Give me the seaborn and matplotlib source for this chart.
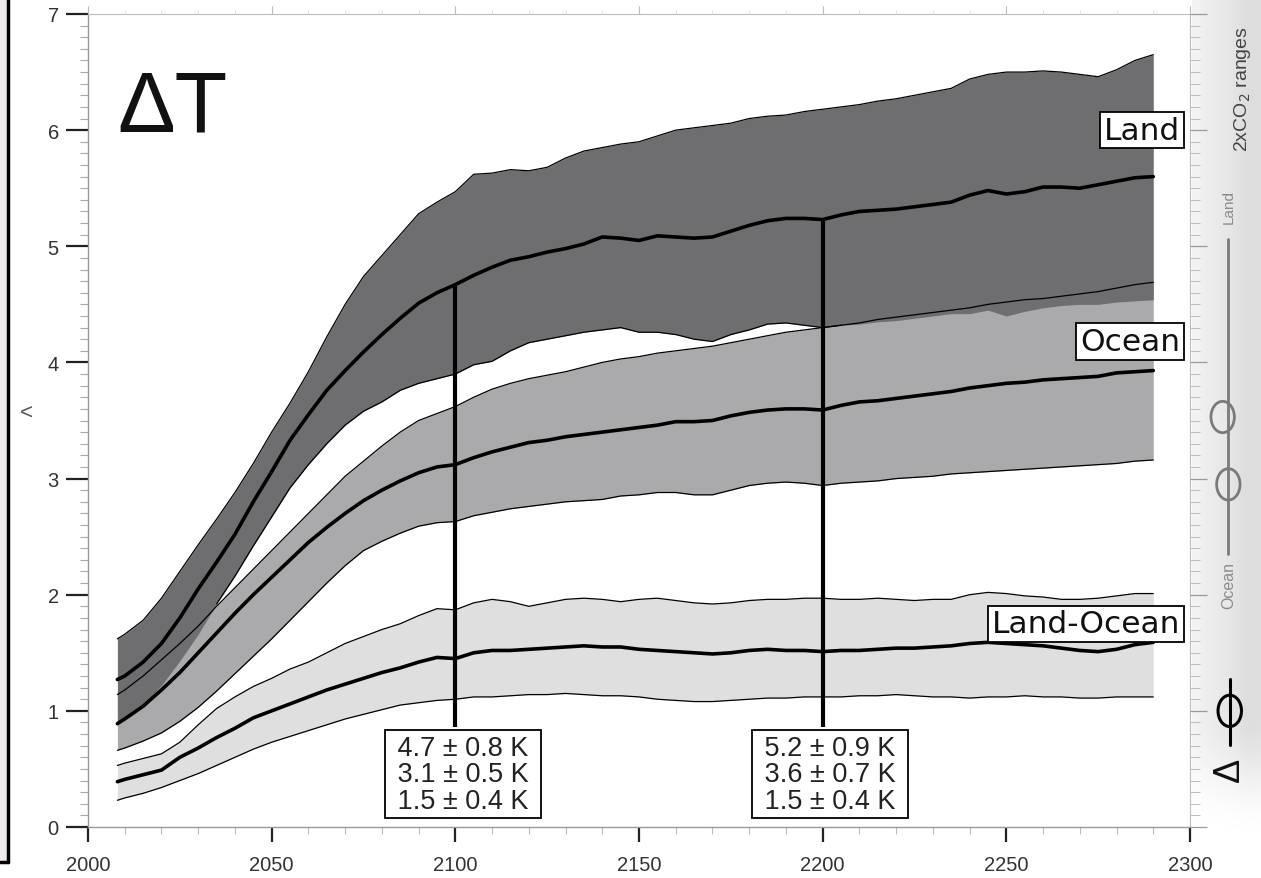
import numpy as np
import pandas as pd
import matplotlib
matplotlib.use("Agg")
import matplotlib.pyplot as plt
from matplotlib.patches import Ellipse, Rectangle
from matplotlib.lines import Line2D
from matplotlib.ticker import MultipleLocator
import seaborn as sns

# ---- data (K) ----
years = [2008] + list(range(2010, 2295, 5))

land_upper = [1.62, 1.66, 1.78, 1.97, 2.20, 2.43, 2.65, 2.88, 3.13, 3.40, 3.65, 3.92, 4.22, 4.50,
              4.74, 4.92, 5.10, 5.28, 5.38, 5.47, 5.62, 5.63, 5.66, 5.65, 5.68, 5.76, 5.82, 5.85,
              5.88, 5.90, 5.95, 6.00, 6.02, 6.04, 6.06, 6.10, 6.12, 6.13, 6.16, 6.18, 6.20, 6.22,
              6.25, 6.27, 6.30, 6.33, 6.36, 6.44, 6.48, 6.50, 6.50, 6.51, 6.50, 6.48, 6.46, 6.52,
              6.60, 6.65]
land_mean = [1.27, 1.30, 1.42, 1.58, 1.80, 2.05, 2.28, 2.52, 2.80, 3.06, 3.33, 3.55, 3.76, 3.93,
             4.09, 4.24, 4.38, 4.51, 4.60, 4.67, 4.75, 4.82, 4.88, 4.91, 4.95, 4.98, 5.02, 5.08,
             5.07, 5.05, 5.09, 5.08, 5.07, 5.08, 5.13, 5.18, 5.22, 5.24, 5.24, 5.23, 5.27, 5.30,
             5.31, 5.32, 5.34, 5.36, 5.38, 5.44, 5.48, 5.45, 5.47, 5.51, 5.51, 5.50, 5.53, 5.56,
             5.59, 5.60]
land_lower = [0.90, 0.93, 1.05, 1.22, 1.43, 1.66, 1.92, 2.16, 2.42, 2.67, 2.92, 3.12, 3.30, 3.46,
              3.58, 3.66, 3.76, 3.82, 3.86, 3.90, 3.98, 4.01, 4.10, 4.17, 4.20, 4.23, 4.26, 4.28,
              4.30, 4.26, 4.26, 4.24, 4.20, 4.18, 4.24, 4.28, 4.33, 4.34, 4.32, 4.30, 4.32, 4.33,
              4.35, 4.36, 4.38, 4.40, 4.42, 4.42, 4.45, 4.40, 4.44, 4.47, 4.49, 4.50, 4.50, 4.52,
              4.53, 4.54]

ocean_upper = [1.14, 1.18, 1.30, 1.44, 1.58, 1.73, 1.90, 2.06, 2.22, 2.38, 2.54, 2.70, 2.86, 3.02,
               3.15, 3.28, 3.40, 3.50, 3.56, 3.62, 3.70, 3.77, 3.82, 3.86, 3.89, 3.92, 3.96, 4.00,
               4.03, 4.05, 4.08, 4.10, 4.12, 4.14, 4.17, 4.20, 4.23, 4.26, 4.28, 4.30, 4.32, 4.34,
               4.37, 4.39, 4.41, 4.43, 4.45, 4.47, 4.50, 4.52, 4.54, 4.55, 4.57, 4.59, 4.61, 4.64,
               4.67, 4.69]
ocean_mean = [0.89, 0.93, 1.04, 1.18, 1.33, 1.50, 1.67, 1.84, 2.00, 2.15, 2.30, 2.45, 2.58, 2.70,
              2.81, 2.90, 2.98, 3.05, 3.10, 3.12, 3.18, 3.23, 3.27, 3.31, 3.33, 3.36, 3.38, 3.40,
              3.42, 3.44, 3.46, 3.49, 3.49, 3.50, 3.54, 3.57, 3.59, 3.60, 3.60, 3.59, 3.63, 3.66,
              3.67, 3.69, 3.71, 3.73, 3.75, 3.78, 3.80, 3.82, 3.83, 3.85, 3.86, 3.87, 3.88, 3.91,
              3.92, 3.93]
ocean_lower = [0.66, 0.68, 0.74, 0.81, 0.91, 1.03, 1.17, 1.32, 1.47, 1.62, 1.78, 1.94, 2.10, 2.25,
               2.38, 2.46, 2.53, 2.59, 2.62, 2.63, 2.68, 2.71, 2.74, 2.76, 2.78, 2.80, 2.81, 2.82,
               2.85, 2.86, 2.88, 2.88, 2.86, 2.86, 2.90, 2.94, 2.96, 2.97, 2.96, 2.94, 2.96, 2.97,
               2.98, 3.00, 3.01, 3.02, 3.04, 3.05, 3.06, 3.07, 3.08, 3.09, 3.10, 3.11, 3.12, 3.13,
               3.15, 3.16]

lo_upper = [0.53, 0.55, 0.59, 0.63, 0.73, 0.88, 1.02, 1.12, 1.21, 1.28, 1.36, 1.42, 1.50, 1.58,
            1.64, 1.70, 1.75, 1.82, 1.88, 1.87, 1.93, 1.96, 1.94, 1.90, 1.93, 1.96, 1.97, 1.96,
            1.94, 1.96, 1.97, 1.95, 1.93, 1.92, 1.93, 1.95, 1.96, 1.96, 1.97, 1.97, 1.96, 1.96,
            1.97, 1.96, 1.95, 1.96, 1.96, 2.00, 2.02, 2.01, 1.99, 1.98, 1.96, 1.96, 1.97, 1.99,
            2.01, 2.01]
lo_mean = [0.39, 0.41, 0.45, 0.49, 0.60, 0.68, 0.77, 0.85, 0.94, 1.00, 1.06, 1.12, 1.18, 1.23,
           1.28, 1.33, 1.37, 1.42, 1.46, 1.45, 1.50, 1.52, 1.52, 1.53, 1.54, 1.55, 1.56, 1.55,
           1.55, 1.53, 1.52, 1.51, 1.50, 1.49, 1.50, 1.52, 1.53, 1.52, 1.52, 1.51, 1.52, 1.52,
           1.53, 1.54, 1.54, 1.55, 1.56, 1.58, 1.59, 1.58, 1.57, 1.56, 1.54, 1.52, 1.51, 1.53,
           1.57, 1.59]
lo_lower = [0.23, 0.25, 0.29, 0.34, 0.40, 0.46, 0.53, 0.60, 0.67, 0.73, 0.78, 0.83, 0.88, 0.93,
            0.97, 1.01, 1.05, 1.07, 1.09, 1.10, 1.12, 1.12, 1.13, 1.14, 1.14, 1.15, 1.14, 1.13,
            1.13, 1.12, 1.10, 1.09, 1.08, 1.08, 1.09, 1.10, 1.11, 1.11, 1.12, 1.12, 1.12, 1.13,
            1.13, 1.14, 1.13, 1.12, 1.12, 1.11, 1.12, 1.12, 1.13, 1.12, 1.12, 1.11, 1.11, 1.12,
            1.12, 1.12]

series_labels = ["Land", "Ocean", "Land-Ocean"]
label_y = [6.0, 4.18, 1.75]

box_years = [2100, 2200]
box_texts = [" 4.7 ± 0.8 K \n 3.1 ± 0.5 K \n 1.5 ± 0.4 K ",
             " 5.2 ± 0.9 K \n 3.6 ± 0.7 K \n 1.5 ± 0.4 K "]

# 2xCO2 ranges (side panel)
land_ocean_range = [5.06, 2.35]
land_circle, ocean_circle = 3.53, 2.95
delta_range = [1.27, 0.71]
delta_circle = 1.0

df = pd.DataFrame({"year": years,
                   "land_u": land_upper, "land_m": land_mean, "land_l": land_lower,
                   "ocean_u": ocean_upper, "ocean_m": ocean_mean, "ocean_l": ocean_lower,
                   "lo_u": lo_upper, "lo_m": lo_mean, "lo_l": lo_lower})

sns.set_style("ticks")
plt.rcParams["font.family"] = ["Liberation Sans", "DejaVu Sans"]

W, H = 1261, 879
fig = plt.figure(figsize=(W / 100, H / 100), dpi=100)

# side panel background (soft grey shading)
bg = fig.add_axes([1192 / W, 1 - 845 / H, 69 / W, 845 / H])
horiz = np.array([0.95, 0.93, 0.92, 0.91, 0.90, 0.88, 0.86, 0.87])
fade = np.zeros(40)
fade[-5:] = [0.2, 0.45, 0.7, 0.9, 1.0]
shade = horiz[None, :] + (1 - horiz[None, :]) * fade[:, None]
bg.imshow(shade, cmap="gray", vmin=0, vmax=1, aspect="auto", interpolation="bicubic")
bg.axis("off")
bg.set_zorder(-1)

ax = fig.add_axes([88 / W, 1 - 828 / H, (1190 - 88) / W, (828 - 15) / H])
ax.set_facecolor("white")

# bands
ax.fill_between(df["year"], df["lo_l"], df["lo_u"], color="#dfdfdf", lw=0, zorder=1)
ax.fill_between(df["year"], df["ocean_l"], df["ocean_u"], color="#aaaaac", lw=0, zorder=2)
ax.fill_between(df["year"], df["land_l"], df["land_u"], color="#6e6e70", lw=0, zorder=3)

# thin envelope lines
land_low_vis = np.where(df["land_l"] >= df["ocean_u"], df["land_l"], np.nan)
for col in ["land_u", "ocean_u", "ocean_l", "lo_u", "lo_l"]:
    sns.lineplot(x=df["year"], y=df[col], ax=ax, color="black", lw=0.9,
                 estimator=None, sort=False, zorder=4)
ax.plot(df["year"], land_low_vis, color="black", lw=0.9, zorder=4)

# mean lines
for col in ["land_m", "ocean_m", "lo_m"]:
    sns.lineplot(x=df["year"], y=df[col], ax=ax, color="black", lw=2.6,
                 estimator=None, sort=False, zorder=5)

# marker lines and value boxes
box_top = 0.86
for yr, txt in zip(box_years, box_texts):
    top = np.interp(yr, df["year"], df["land_m"])
    ax.vlines(yr, box_top, top, color="black", lw=3, zorder=6)
    ax.text(yr + 2, 0.455, txt, ha="center", va="center", fontsize=19.5, linespacing=1.02,
            color="#222", zorder=7,
            bbox=dict(boxstyle="square,pad=0.18", fc="white", ec="black", lw=1.3))

for lab, yv in zip(series_labels, label_y):
    ax.text(2297.3, yv, lab, ha="right", va="center", fontsize=22.5, family="DejaVu Sans",
            color="#111", zorder=7,
            bbox=dict(boxstyle="square,pad=0.12", fc="white", ec="black", lw=1.3))

ax.text(2008, 6.0, "ΔT", fontsize=62, ha="left", va="baseline", color="#111", zorder=7)

ax.set_xlim(2000, 2300)
ax.set_ylim(0, 7)
ax.set_xlabel("")
ax.set_ylabel("")
ax.xaxis.set_major_locator(MultipleLocator(50))
ax.xaxis.set_minor_locator(MultipleLocator(10))
ax.yaxis.set_major_locator(MultipleLocator(1))
ax.yaxis.set_minor_locator(MultipleLocator(0.1))
ax.tick_params(axis="y", which="major", direction="out", length=16, width=1.6,
               color="#222", labelsize=14.5, labelcolor="#333", pad=5)
ax.tick_params(axis="y", which="minor", direction="out", length=6, width=0.8, color="#aaa")
ax.tick_params(axis="x", which="major", direction="out", length=11, width=1.6,
               color="#222", labelsize=14.5, labelcolor="#333", pad=9)
ax.tick_params(axis="x", which="minor", direction="out", length=5, width=0.8, color="#bbb")
for s in ["left", "bottom"]:
    ax.spines[s].set_color("#999")
    ax.spines[s].set_linewidth(1.0)
for s in ["top", "right"]:
    ax.spines[s].set_color("#bbb")
    ax.spines[s].set_linewidth(0.8)

# right-hand minor ticks and top ticks
rax = ax.twinx()
rax.set_ylim(0, 7)
rax.yaxis.set_major_locator(MultipleLocator(1))
rax.yaxis.set_minor_locator(MultipleLocator(0.1))
rax.tick_params(axis="y", which="major", direction="out", length=12, width=0.9,
                color="#999", labelright=False)
rax.tick_params(axis="y", which="minor", direction="out", length=7, width=0.7, color="#bbb")
rax.spines[:].set_visible(False)
tax = ax.twiny()
tax.set_xlim(2000, 2300)
tax.xaxis.set_major_locator(MultipleLocator(50))
tax.xaxis.set_minor_locator(MultipleLocator(10))
tax.tick_params(axis="x", which="major", direction="out", length=6, width=0.8,
                color="#bbb", labeltop=False)
tax.tick_params(axis="x", which="minor", direction="out", length=3, width=0.6, color="#ddd")
tax.spines[:].set_visible(False)

# side panel: 2xCO2 ranges
side = fig.add_axes([1190 / W, 1 - 828 / H, 71 / W, (828 - 15) / H])
side.set_xlim(0, 1)
side.set_ylim(0, 7)
side.axis("off")
side.plot([0.535, 0.535], land_ocean_range, color="#7a7a7a", lw=2)
side.add_patch(Ellipse((0.46, land_circle), 0.33, 0.27, fc="none", ec="#7a7a7a", lw=2))
side.add_patch(Ellipse((0.54, ocean_circle), 0.33, 0.27, fc="none", ec="#7a7a7a", lw=2))
side.plot([0.56, 0.56], delta_range, color="black", lw=2.2)
side.add_patch(Ellipse((0.56, delta_circle), 0.33, 0.27, fc="none", ec="black", lw=2.2))
side.text(0.55, 0.50, "Δ", rotation=90, ha="center", va="center", fontsize=26, color="#111")
side.text(0.55, 5.35, "Land", rotation=90, ha="center", va="center", fontsize=11,
          color="#8a8a8a")
side.text(0.55, 2.09, "Ocean", rotation=90, ha="center", va="center", fontsize=11.5,
          color="#8a8a8a")
side.text(0.74, 6.36, "2xCO$_2$ ranges", rotation=90, ha="center", va="center",
          fontsize=14, color="#444")

# left frame from the page
fig.add_artist(Rectangle((0, 1 - 863 / H), 7 / W, 863 / H, transform=fig.transFigure,
                         fc="#efe9ed", ec="none"))
fig.add_artist(Line2D([8 / W, 8 / W], [1, 1 - 863 / H], transform=fig.transFigure,
                      color="black", lw=2.5))
fig.add_artist(Line2D([0, 8 / W], [1 - 863 / H, 1 - 863 / H], transform=fig.transFigure,
                      color="black", lw=2.5))
fig.text(26 / W, 1 - 413 / H, "<", fontsize=16, color="#555", ha="center", va="center")

fig.savefig("out.png", dpi=100)
